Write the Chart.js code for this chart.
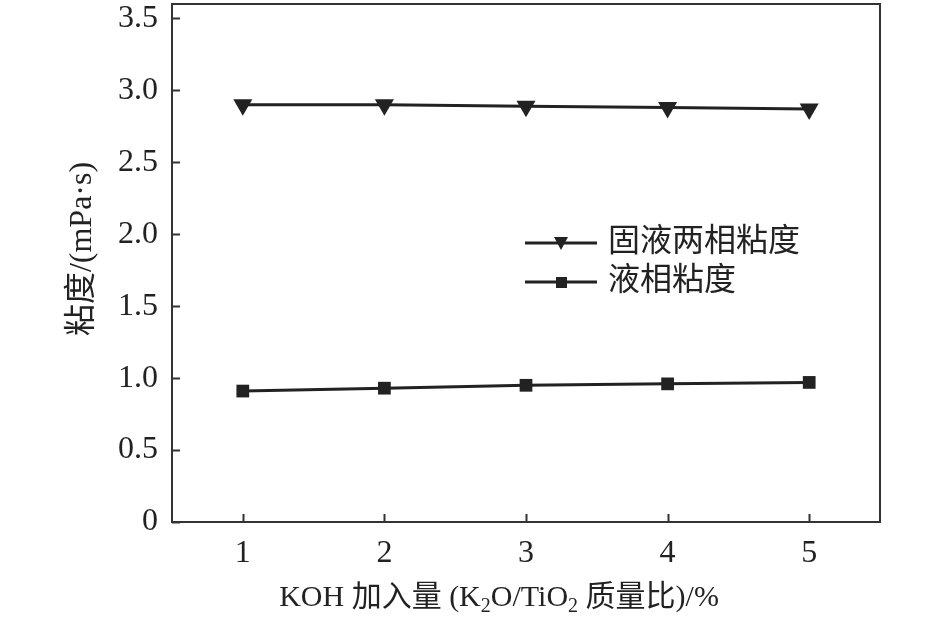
<!DOCTYPE html>
<html>
<head>
<meta charset="utf-8">
<script src="https://cdn.jsdelivr.net/npm/chart.js@4/dist/chart.umd.min.js"></script>
<style>
  html, body { margin: 0; padding: 0; background: #fff; }
  #wrap { width: 945px; height: 628px; }
</style>
</head>
<body>
<div id="wrap"><canvas id="c" width="945" height="628"></canvas></div>
<script>
// KOH amount vs viscosity
const koh = [1, 2, 3, 4, 5];
const slurryVisc = [2.90, 2.90, 2.89, 2.88, 2.87];   // 固液两相粘度
const liquidVisc = [0.91, 0.93, 0.95, 0.96, 0.97];   // 液相粘度
const yTicks = [0, 0.5, 1.0, 1.5, 2.0, 2.5, 3.0, 3.5];
const xTicks = [1, 2, 3, 4, 5];
const seriesNames = ['固液两相粘度', '液相粘度'];

const INK = '#222';
const SERIF = '"Liberation Serif", "Times New Roman", serif';
const CJK = '"Liberation Serif", "Noto Sans CJK SC", serif';

// frame, inward ticks, axis titles, legend
const decor = {
  id: 'decor',
  afterDraw(chart) {
    const { ctx, chartArea: a, scales: { x, y } } = chart;
    ctx.save();
    ctx.strokeStyle = '#333';
    ctx.lineWidth = 2;
    ctx.strokeRect(a.left, a.top, a.right - a.left, a.bottom - a.top);
    ctx.beginPath();
    yTicks.forEach(v => {
      const py = Math.round(y.getPixelForValue(v)) + 0.5;
      ctx.moveTo(a.left, py); ctx.lineTo(a.left + 8, py);
    });
    xTicks.forEach(v => {
      const px = Math.round(x.getPixelForValue(v)) + 0.5;
      ctx.moveTo(px, a.bottom); ctx.lineTo(px, a.bottom - 8);
    });
    ctx.stroke();

    // x title with subscripts
    ctx.fillStyle = INK;
    ctx.textBaseline = 'alphabetic';
    const parts = [
      ['KOH 加入量 (K', 30, 0], ['2', 20, 6], ['O/TiO', 30, 0], ['2', 20, 6], [' 质量比)/%', 30, 0]
    ];
    let total = 0;
    parts.forEach(p => { ctx.font = p[1] + 'px ' + CJK; total += ctx.measureText(p[0]).width; });
    let cx = 499 - total / 2;
    parts.forEach(p => {
      ctx.font = p[1] + 'px ' + CJK;
      ctx.fillText(p[0], cx, 606 + p[2]);
      cx += ctx.measureText(p[0]).width;
    });

    // y title
    ctx.save();
    ctx.translate(91, 249);
    ctx.rotate(-Math.PI / 2);
    ctx.font = '32px ' + CJK;
    ctx.textAlign = 'center';
    ctx.fillText('粘度/(mPa·s)', 0, 0);
    ctx.restore();

    // legend
    const rows = [243, 282];
    chart.data.datasets.forEach((ds, i) => {
      const ly = rows[i];
      ctx.strokeStyle = INK;
      ctx.lineWidth = 3;
      ctx.beginPath();
      ctx.moveTo(525, ly); ctx.lineTo(597, ly);
      ctx.stroke();
      ctx.fillStyle = INK;
      ctx.beginPath();
      if (ds.pointStyle === 'triangle') {
        ctx.moveTo(554, ly - 6); ctx.lineTo(568, ly - 6); ctx.lineTo(561, ly + 7);
        ctx.closePath();
      } else {
        ctx.rect(556, ly - 5, 11, 11);
      }
      ctx.fill();
      ctx.font = '32px ' + CJK;
      ctx.textBaseline = 'middle';
      ctx.textAlign = 'left';
      ctx.fillText(ds.label, 608, ly);
    });
    ctx.restore();
  }
};

new Chart(document.getElementById('c'), {
  type: 'line',
  data: {
    datasets: [
      {
        label: seriesNames[0],
        data: koh.map((k, i) => ({ x: k, y: slurryVisc[i] })),
        borderColor: INK, backgroundColor: INK, borderWidth: 3,
        pointStyle: 'triangle', pointRotation: 180, pointRadius: 11,
        pointBorderWidth: 0
      },
      {
        label: seriesNames[1],
        data: koh.map((k, i) => ({ x: k, y: liquidVisc[i] })),
        borderColor: INK, backgroundColor: INK, borderWidth: 3,
        pointStyle: 'rect', pointRadius: 9,
        pointBorderWidth: 0
      }
    ]
  },
  options: {
    responsive: false,
    animation: false,
    layout: { autoPadding: false, padding: { top: 4, right: 65, left: 0, bottom: 0 } },
    plugins: { legend: { display: false }, tooltip: { enabled: false } },
    scales: {
      x: {
        type: 'linear', min: 0.5, max: 5.5,
        grid: { display: false, drawTicks: false },
        border: { display: false },
        afterBuildTicks: s => { s.ticks = xTicks.map(v => ({ value: v })); },
        afterFit: s => { s.height = 106; s.paddingLeft = 0; s.paddingRight = 0; },
        ticks: { color: INK, padding: 12, font: { family: SERIF, size: 32 }, callback: v => String(v) }
      },
      y: {
        type: 'linear', min: 0, max: 3.6,
        grid: { display: false, drawTicks: false },
        border: { display: false },
        afterBuildTicks: s => { s.ticks = yTicks.map(v => ({ value: v })); },
        afterFit: s => { s.width = 172; s.paddingTop = 0; s.paddingBottom = 0; },
        ticks: { color: INK, padding: 14, font: { family: SERIF, size: 32 },
                 callback: v => v === 0 ? '0' : v.toFixed(1) }
      }
    }
  },
  plugins: [decor]
});
</script>
</body>
</html>
